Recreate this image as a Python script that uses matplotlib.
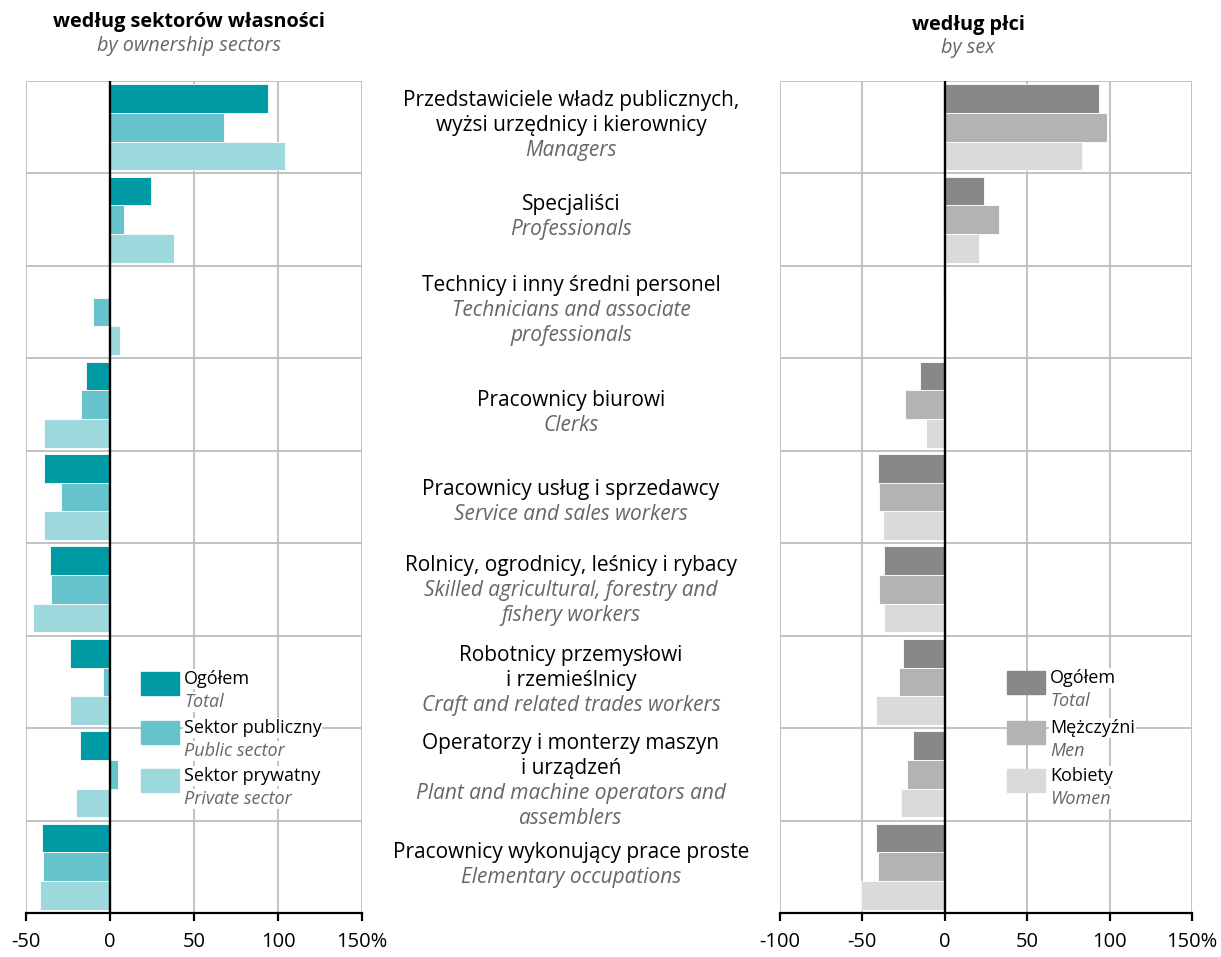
import matplotlib
matplotlib.use("Agg")
import matplotlib.pyplot as plt
from matplotlib.patches import Rectangle
from matplotlib.transforms import blended_transform_factory, offset_copy
import numpy as np

plt.rcParams['font.family'] = ['Open Sans', 'DejaVu Sans']

# ---------------- data ----------------
categories_pl = [
    "Przedstawiciele władz publicznych,\nwyżsi urzędnicy i kierownicy",
    "Specjaliści",
    "Technicy i inny średni personel",
    "Pracownicy biurowi",
    "Pracownicy usług i sprzedawcy",
    "Rolnicy, ogrodnicy, leśnicy i rybacy",
    "Robotnicy przemysłowi\ni rzemieślnicy",
    "Operatorzy i monterzy maszyn\ni urządzeń",
    "Pracownicy wykonujący prace proste",
]
categories_en = [
    "Managers",
    "Professionals",
    "Technicians and associate\nprofessionals",
    "Clerks",
    "Service and sales workers",
    "Skilled agricultural, forestry and\nfishery workers",
    "Craft and related trades workers",
    "Plant and machine operators and\nassemblers",
    "Elementary occupations",
]

sector_total   = [94, 24.5, 0, -14, -39, -35.5, -24, -18, -40.5]
sector_public  = [68, 8.5, -10, -17.5, -29, -35, -4, 4.5, -40]
sector_private = [104, 38, 6, -39.5, -39.5, -46, -24, -20.5, -41.5]

sex_total = [93.5, 24, -1, -15, -40.5, -37, -25.5, -19.5, -42]
sex_men   = [98.5, 33, 1, -24, -40, -40, -27.5, -23, -40.5]
sex_women = [83, 21, 0, -11.5, -37.5, -37, -41.5, -26.5, -51]

left_ticks = [-50, 0, 50, 100, 150]
left_ticklabels = ["-50", "0", "50", "100", "150%"]
right_ticks = [-100, -50, 0, 50, 100, 150]
right_ticklabels = ["-100", "-50", "0", "50", "100", "150%"]

sector_legend = [("Ogółem", "Total"), ("Sektor publiczny", "Public sector"),
                 ("Sektor prywatny", "Private sector")]
sex_legend = [("Ogółem", "Total"), ("Mężczyźni", "Men"), ("Kobiety", "Women")]

teal = ["#009aa5", "#66c3cb", "#9dd8dc"]
grays = ["#888888", "#b2b3b2", "#d9dbda"]

# small vertical shifts (px, downward) of the middle label blocks
label_shift_px = [-2, -3, -1.5, 8, 5, 1.5, -1.5, 7, -1.5]

W, H = 1221, 957
fig = plt.figure(figsize=(W / 100, H / 100), dpi=100)

def fx(px):
    return px / W

def fy(py):
    return 1 - py / H

ax_l = fig.add_axes([fx(26), fy(913), fx(362) - fx(26), fy(81) - fy(913)])
ax_r = fig.add_axes([fx(780), fy(913), fx(1192) - fx(780), fy(81) - fy(913)])

n = len(categories_pl)
y = np.arange(n)
bh = 0.31
grid_c = "#bdbdbd"

def setup(ax, series, colors, xlim, ticks, ticklabels):
    for k, (vals, col) in enumerate(zip(series, colors)):
        ax.barh(y + (k - 1) * bh, vals, height=bh, color=col,
                edgecolor="white", linewidth=0.6, zorder=2)
    ax.set_xlim(*xlim)
    ax.set_ylim(n - 0.5, -0.5)
    ax.set_yticks([])
    ax.set_xticks(ticks)
    ax.set_xticklabels(ticklabels)
    for t in ticks:
        ax.axvline(t, color=grid_c, lw=1.3, zorder=1)
    for b in np.arange(n + 1) - 0.5:
        ax.axhline(b, color=grid_c, lw=1.3, zorder=1)
    ax.axvline(0, color="black", lw=1.7, zorder=4)
    for s in ["top", "left", "right"]:
        ax.spines[s].set_visible(False)
    ax.spines["bottom"].set_color("black")
    ax.spines["bottom"].set_linewidth(1.6)
    ax.spines["bottom"].set_zorder(5)
    ax.tick_params(axis="x", direction="out", length=6, width=1.6,
                   color="black", pad=8, labelsize=14.5)

setup(ax_l, [sector_total, sector_public, sector_private], teal,
      (-50, 150), left_ticks, left_ticklabels)
setup(ax_r, [sex_total, sex_men, sex_women], grays,
      (-100, 150), right_ticks, right_ticklabels)

# titles
fig.text(fx(189), fy(22), "według sektorów własności", ha="center", va="center",
         fontsize=14.3, fontweight="bold")
fig.text(fx(189), fy(46), "by ownership sectors", ha="center", va="center",
         fontsize=14.3, style="italic", color="#666666")
fig.text(fx(968), fy(25), "według płci", ha="center", va="center",
         fontsize=14.3, fontweight="bold")
fig.text(fx(968), fy(48), "by sex", ha="center", va="center",
         fontsize=14.3, style="italic", color="#666666")

# category labels in the middle
tr = blended_transform_factory(fig.transFigure, ax_l.transData)
line_pt = 18  # 25 px
for i in range(n):
    lines = [(s, "normal", "black") for s in categories_pl[i].split("\n")] + \
            [(s, "italic", "#666666") for s in categories_en[i].split("\n")]
    m = len(lines)
    for j, (s, st, c) in enumerate(lines):
        off = ((m - 1) / 2 - j) * line_pt - label_shift_px[i] * 0.72
        t = offset_copy(tr, fig=fig, x=0, y=off, units="points")
        fig.text(fx(571), i, s, transform=t, ha="center", va="center",
                 fontsize=15, style=st, color=c)

# legends
def legend(entries, colors, px_patch, px_text, py_tops):
    for (pl, en), col, top in zip(entries, colors, py_tops):
        fig.patches.append(Rectangle((fx(px_patch), fy(top + 23)), fx(38), 23 / H,
                                     transform=fig.transFigure, color=col,
                                     zorder=6))
        fig.text(fx(px_text), fy(top + 7), pl, ha="left", va="center", fontsize=13,
                 zorder=7, bbox=dict(facecolor="white", edgecolor="none", pad=0.5))
        fig.text(fx(px_text), fy(top + 30), en, ha="left", va="center", fontsize=13,
                 style="italic", color="#666666", zorder=7,
                 bbox=dict(facecolor="white", edgecolor="none", pad=0.5))

legend(sector_legend, teal, 141, 184, [672, 721, 769])
legend(sex_legend, grays, 1007, 1050, [671, 721, 769])

fig.savefig("out.png", dpi=100)
